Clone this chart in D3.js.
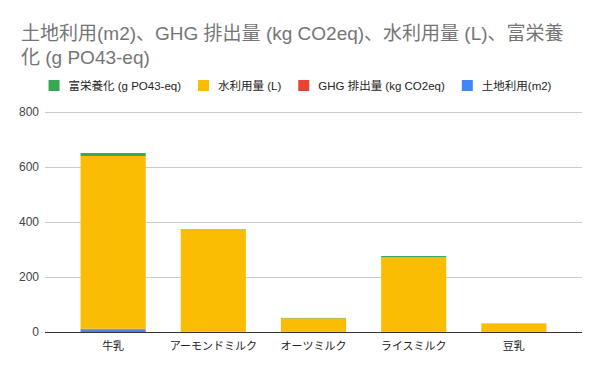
<!DOCTYPE html>
<html>
<head>
<meta charset="utf-8">
<script src="https://cdn.jsdelivr.net/npm/d3@7"></script>
<style>
  body { margin: 0; background: #fff; }
  svg { display: block; font-family: "Liberation Sans", Arial, "Noto Sans CJK JP", sans-serif; }
</style>
</head>
<body>
<div id="chart-area"></div>
<script>
// DATA ---------------------------------------------------------
var categories = ["牛乳", "アーモンドミルク", "オーツミルク", "ライスミルク", "豆乳"];
var landUse = [8.95, 0.5, 0.76, 0.34, 0.66];
var ghg = [3.15, 0.7, 0.9, 1.18, 0.98];
var water = [628, 371, 48, 270, 28];
var eutro = [10.65, 1.5, 1.6, 4.7, 1.1];
var seriesNames = ["土地利用(m2)", "GHG 排出量 (kg CO2eq)", "水利用量 (L)", "富栄養化 (g PO43-eq)"];
var seriesColors = ["#4285f4", "#ea4335", "#fbbc04", "#34a853"];
var yTicks = [0, 200, 400, 600, 800];
var titleLines = ["土地利用(m2)、GHG 排出量 (kg CO2eq)、水利用量 (L)、富栄養", "化 (g PO43-eq)"];

var W = 600, H = 371;
var margin = { left: 45, right: 18, top: 112, bottom: 39 };
var width = W - margin.left - margin.right;
var height = H - margin.top - margin.bottom;

var svg = d3.select("#chart-area").append("svg")
    .attr("width", W)
    .attr("height", H);

// TITLE --------------------------------------------------------
var title = svg.append("text")
    .attr("x", 21)
    .attr("y", 40)
    .attr("font-size", "19px")
    .attr("fill", "#757575");
titleLines.forEach((t, i) => {
    title.append("tspan")
        .attr("x", 21)
        .attr("dy", i == 0 ? 0 : 24)
        .text(t);
});

// STACK --------------------------------------------------------
var table = categories.map((c, i) => {
    return { cat: c, s0: landUse[i], s1: ghg[i], s2: water[i], s3: eutro[i] };
});
var stack = d3.stack().keys(["s0", "s1", "s2", "s3"]);
var layers = stack(table);

// SCALES -------------------------------------------------------
var x = d3.scaleBand()
    .domain(categories)
    .range([0, width])
    .paddingInner(0.35)
    .paddingOuter(0.355);
var y = d3.scaleLinear()
    .domain([0, 800])
    .range([height, 0]);

var g = svg.append("g")
    .attr("transform", "translate(" + margin.left + ", " + margin.top + ")");

// Grid
g.selectAll(".grid")
    .data(yTicks.filter(d => d > 0))
    .enter().append("line")
    .attr("x1", 0)
    .attr("x2", width)
    .attr("y1", d => Math.round(y(d)) + 0.5)
    .attr("y2", d => Math.round(y(d)) + 0.5)
    .attr("stroke", "#cccccc")
    .attr("stroke-width", 1);

// Y labels
g.selectAll(".ylab")
    .data(yTicks)
    .enter().append("text")
    .attr("x", -6)
    .attr("y", d => y(d) + 4)
    .attr("text-anchor", "end")
    .attr("font-size", "12px")
    .attr("fill", "#444")
    .text(d => d);

// Bars
g.selectAll(".layer")
    .data(layers)
    .enter().append("g")
    .attr("fill", (d, i) => seriesColors[i])
    .selectAll("rect")
    .data(d => d)
    .enter().append("rect")
    .attr("x", d => x(d.data.cat))
    .attr("width", x.bandwidth())
    .attr("y", d => y(d[1]))
    .attr("height", d => y(d[0]) - y(d[1]));

// Baseline
g.append("line")
    .attr("x1", 0)
    .attr("x2", width)
    .attr("y1", height + 0.5)
    .attr("y2", height + 0.5)
    .attr("stroke", "#333")
    .attr("stroke-width", 1);

// X labels
g.selectAll(".xlab")
    .data(categories)
    .enter().append("text")
    .attr("x", d => x(d) + x.bandwidth() / 2)
    .attr("y", height + 18)
    .attr("text-anchor", "middle")
    .attr("font-size", "11px")
    .attr("fill", "#222")
    .text(d => d);

// LEGEND -------------------------------------------------------
var legend = svg.append("g");
var order = [3, 2, 1, 0];
var lx = 0;
order.forEach((k, j) => {
    var item = legend.append("g").attr("transform", "translate(" + lx + ", 0)");
    item.append("rect")
        .attr("x", 0).attr("y", 80)
        .attr("width", 11).attr("height", 11)
        .attr("fill", seriesColors[k]);
    var t = item.append("text")
        .attr("x", 20).attr("y", 90)
        .attr("font-size", "11.5px")
        .attr("fill", "#222")
        .text(seriesNames[k]);
    lx += 20 + t.node().getComputedTextLength() + 17;
});
var total = lx - 17;
legend.attr("transform", "translate(" + (300 - total / 2) + ", 0)");
</script>
</body>
</html>
